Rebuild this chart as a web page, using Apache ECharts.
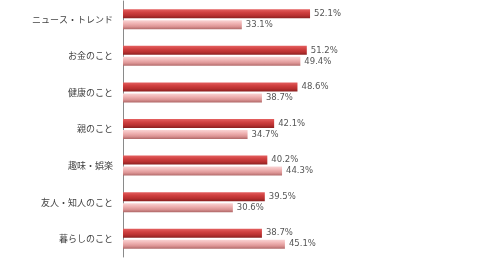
<!DOCTYPE html>
<html><head><meta charset="utf-8">
<script src="https://cdn.jsdelivr.net/npm/echarts@6/dist/echarts.min.js"></script>
<style>html,body{margin:0;padding:0;background:#fff}#c{width:497px;height:260px}</style>
</head><body><div id="c"></div>
<script>
const categories = ['ニュース・トレンド','お金のこと','健康のこと','親のこと','趣味・娯楽','友人・知人のこと','暮らしのこと'];
const seriesA = [52.1, 51.2, 48.6, 42.1, 40.2, 39.5, 38.7];
const seriesB = [33.1, 49.4, 38.7, 34.7, 44.3, 30.6, 45.1];

const chart = echarts.init(document.getElementById('c'), null, {renderer:'canvas'});
const grad = (a,b,c,d) => new echarts.graphic.LinearGradient(0,0,0,1,[
  {offset:0,color:a},{offset:0.35,color:b},{offset:0.7,color:c},{offset:1,color:d}]);
const lbl = {show:true, position:'right', distance:4, color:'#555', fontSize:8.5,
  fontFamily:'DejaVu Sans', formatter: p => p.value.toFixed(1) + '%'};
chart.setOption({
  animation:false,
  grid:{left:123, top:1, width:359, height:256, containLabel:false},
  xAxis:{type:'value', min:0, max:100, show:false},
  yAxis:{type:'category', data:categories, inverse:true,
    axisLine:{show:true, lineStyle:{color:'#8a8a8a', width:1}},
    axisTick:{show:false},
    axisLabel:{color:'#444', fontSize:9, margin:10, fontFamily:'Noto Sans CJK JP'}},
  series:[
    {type:'bar', data:seriesA, barWidth:9, barGap:'22%',
     itemStyle:{color:grad('#e46060','#d04040','#b83030','#8a2020')}, label:lbl},
    {type:'bar', data:seriesB, barWidth:9,
     itemStyle:{color:grad('#f9d4d4','#f0b4b4','#dc9494','#b06868')}, label:lbl}
  ]
});
</script></body></html>
